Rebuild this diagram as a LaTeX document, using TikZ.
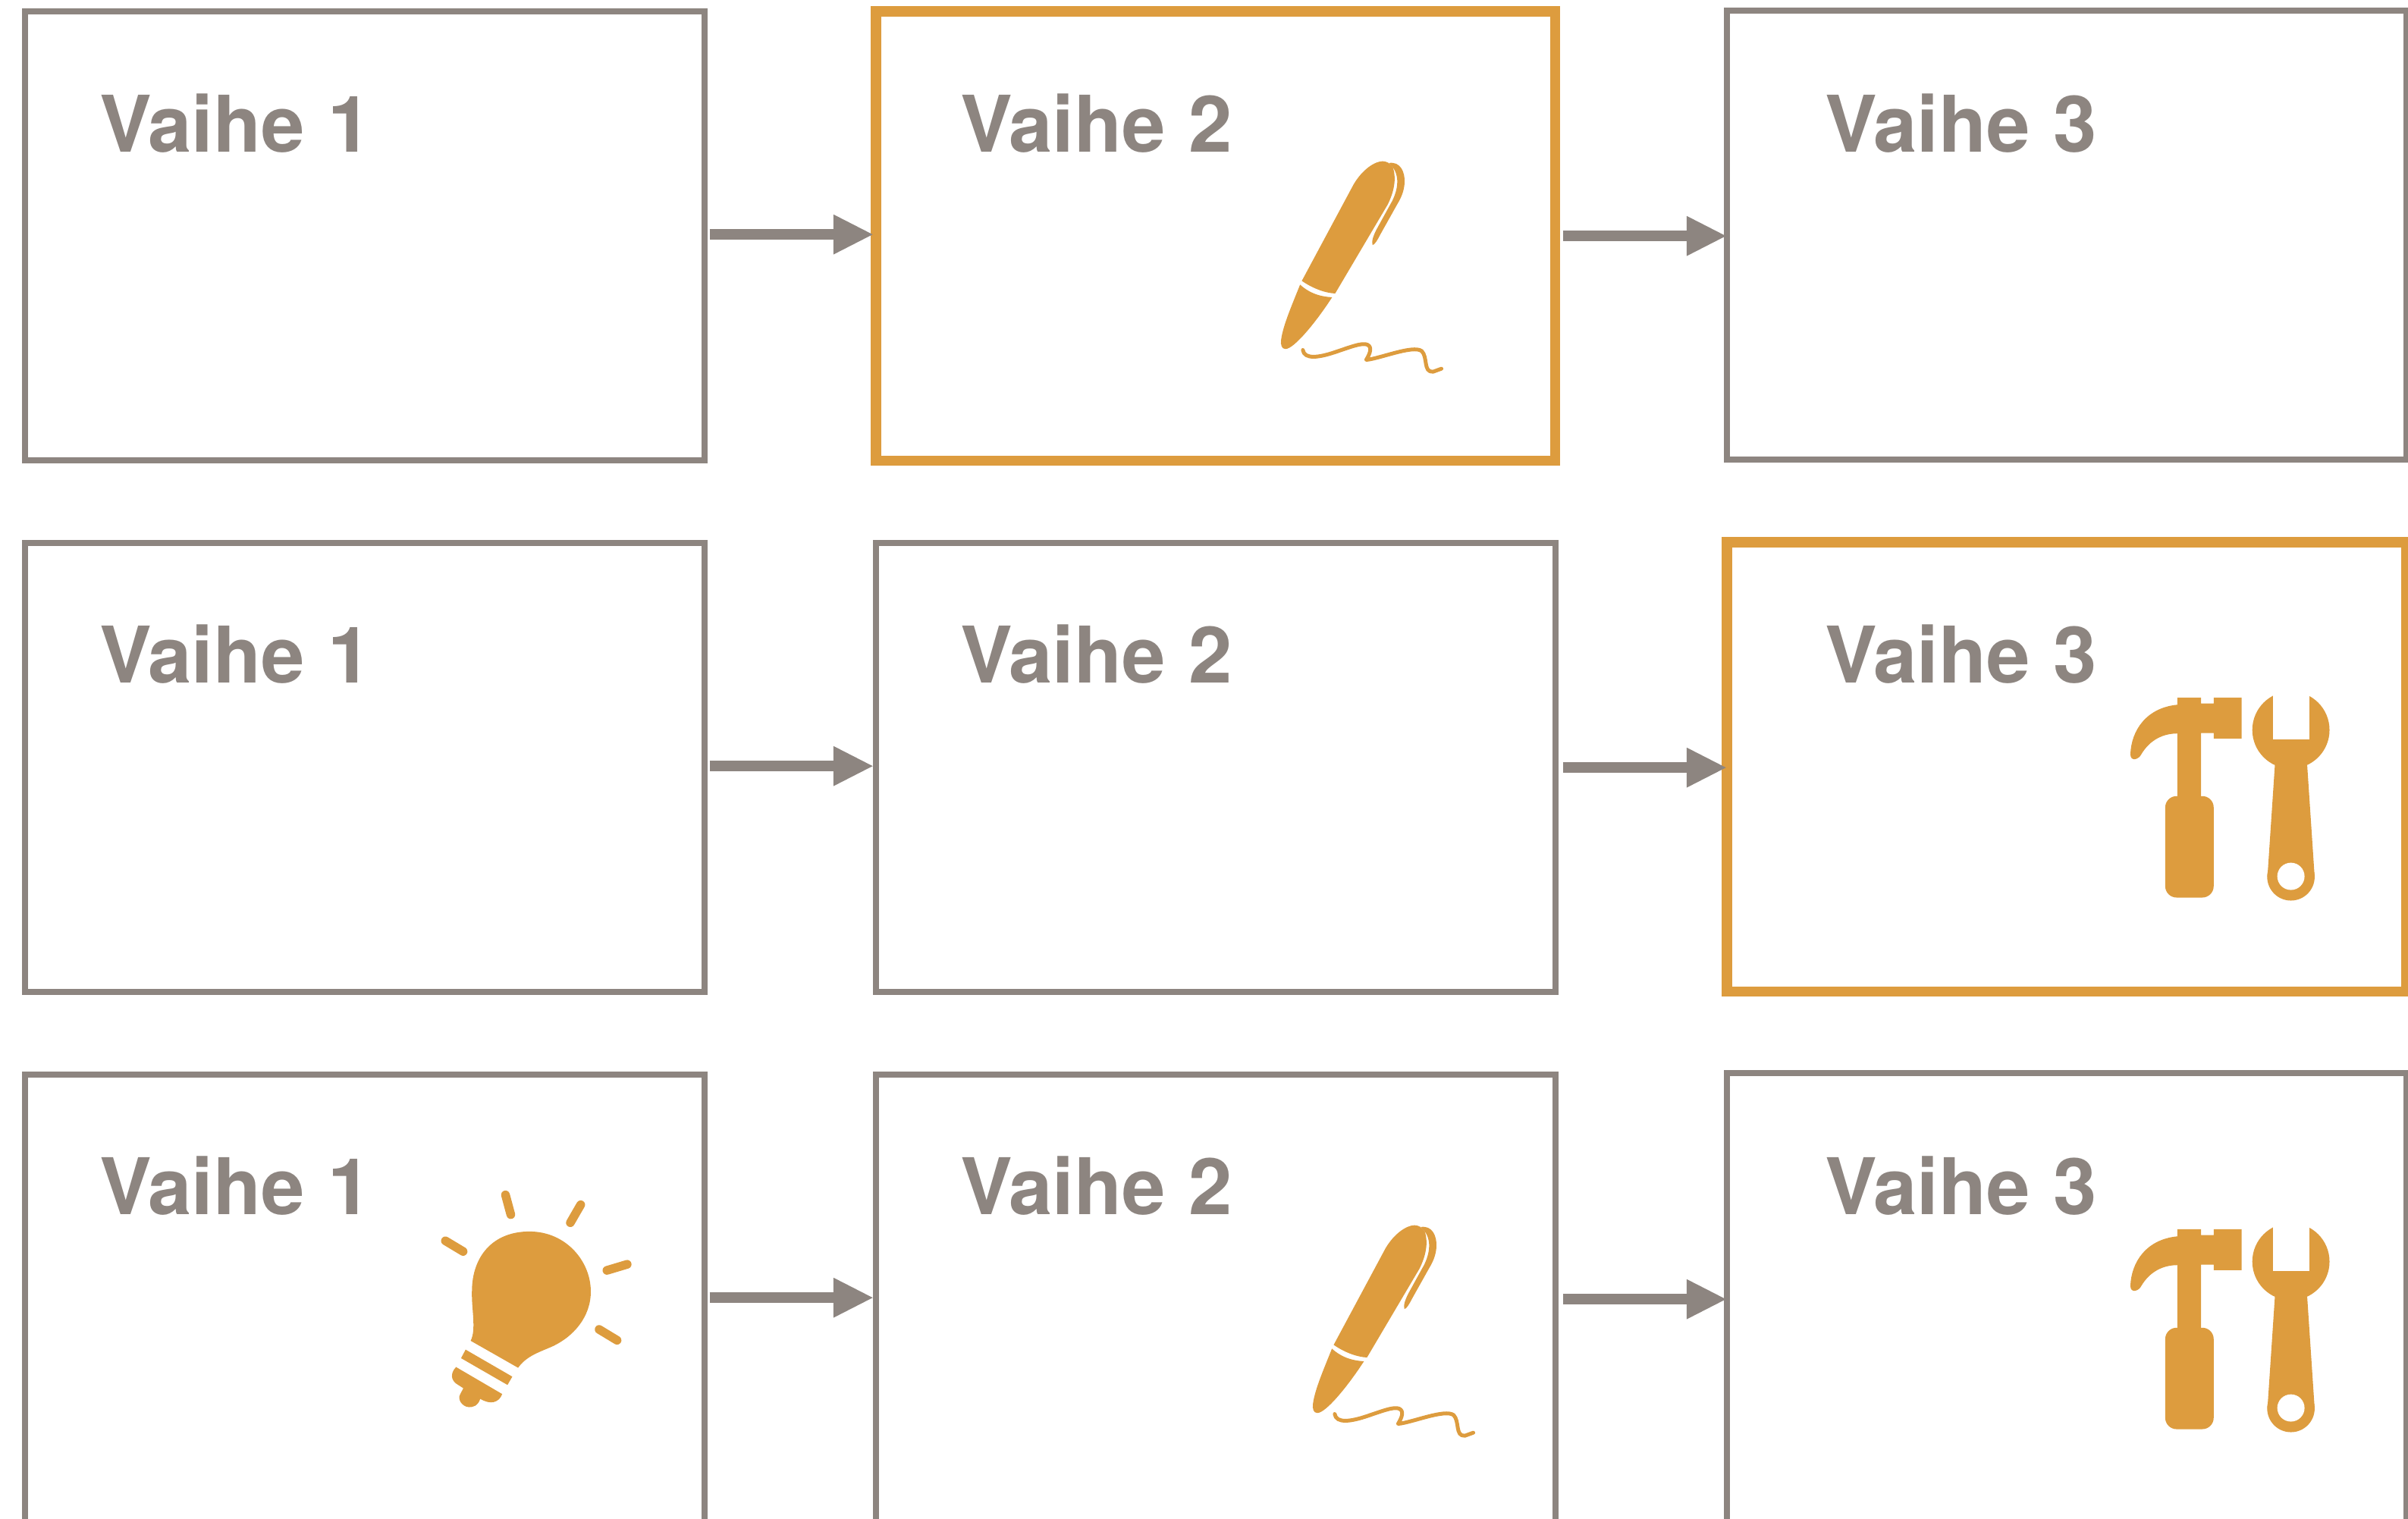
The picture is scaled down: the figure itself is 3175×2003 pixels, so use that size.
\documentclass[tikz,border=0pt]{standalone}
\usepackage{fontspec}
\setmainfont{TeX Gyre Heros}[WordSpace=1.1]
\usetikzlibrary{arrows.meta}
\definecolor{stagegray}{RGB}{141,133,128}
\definecolor{stageorange}{RGB}{221,156,62}
\tikzset{
  stagebox/.style={draw=stagegray,line width=0.08cm,inner sep=0pt,outer sep=0pt,minimum width=8.95cm,minimum height=5.92cm,anchor=north west},
  activebox/.style={stagebox,draw=stageorange,line width=0.135cm},
  stagelabel/.style={text=stagegray,font=\fontsize{29.3}{30}\selectfont\bfseries,inner sep=0pt,outer sep=0pt,anchor=base west},
  flowarrow/.style={draw=stagegray,line width=0.14cm,-{Triangle[length=0.53cm,width=0.485cm]}},
  iconpart/.style={fill=stageorange,draw=none}
}
\newcommand{\penicon}[2]{
\begin{scope}[shift={(#1,#2)},x=0.0033333cm,y=-0.0033333cm]
\fill[iconpart](350,572)--(555,190).. controls (590,130) and (640,98) .. (670,98).. controls (685,98) and (700,105) .. (712,125).. controls (725,170) and (715,220) .. (690,270)--(482,622).. controls (440,620) and (390,600) .. cycle;
\fill[iconpart](343,587).. controls (385,625) and (430,635) .. (470,637).. controls (410,730) and (320,842) .. (285,842).. controls (270,842) and (265,825) .. (268,805).. controls (275,750) and (310,670) .. cycle;
\fill[iconpart](695,105).. controls (740,98) and (760,140) .. (757,185).. controls (755,215) and (745,240) .. (730,265)--(660,390).. controls (650,410) and (638,430) .. (630,430).. controls (625,415) and (635,390) .. (645,370)--(700,270).. controls (730,220) and (740,160) .. (710,122)--cycle;
\draw[stageorange,line width=0.05cm,line cap=round,line join=round](354,846).. controls (360,885) and (420,875) .. (480,855).. controls (540,835) and (590,815) .. (610,825).. controls (630,835) and (620,860) .. (605,885).. controls (660,880) and (790,825) .. (825,850).. controls (850,875) and (830,935) .. (870,932)--(903,920);
\end{scope}
}
\newcommand{\toolsicon}[2]{
\begin{scope}[shift={(#1,#2)},x=0.0033333cm,y=-0.0033333cm]
\fill[iconpart](303,118)--(303,90)--(397,90)--(397,113)--(447,113)--(447,90)--(558,90)--(558,252)--(447,252)--(447,230)--(397,230)--(397,500)--(303,500)--(303,232).. controls (250,232) and (195,255) .. (160,315).. controls (150,335) and (118,345) .. (117,315).. controls (120,220) and (180,130) .. cycle;
\fill[iconpart,rounded corners=0.15cm](255,480) rectangle (447,882);
\fill[iconpart](753,218) circle[radius=153];
\fill[white](681,50) rectangle (825,255);
\fill[iconpart](690,350)--(817,350)--(847,800)--(660,800)--cycle;
\fill[iconpart](753,800) circle[radius=94];
\fill[white](753,798) circle[radius=54];
\end{scope}
}
\newcommand{\bulbicon}[2]{
\begin{scope}[shift={(#1,#2)},x=0.0033333cm,y=-0.0033333cm]
\fill[iconpart](182,655).. controls (205,610) and (185,530) .. (187,460).. controls (187,320) and (270,222) .. (415,222).. controls (560,222) and (658,340) .. (658,460).. controls (658,560) and (590,640) .. (500,680).. controls (440,705) and (400,720) .. (370,762)--cycle;
\fill[iconpart](162,690)--(347,797)--(328,830)--(144,724)--cycle;
\fill[iconpart](124,759)--(307,866).. controls (295,900) and (260,910) .. (220,885).. controls (210,915) and (190,918) .. (175,918).. controls (145,915) and (130,885) .. (140,868)--(153,843)--(125,825).. controls (105,810) and (100,785) .. cycle;
\foreach \xa/\ya/\xb/\yb in {320/77/341/155,618/116/577/187,82/259/152/301,802/352/722/376,691/610/762/653}
  \draw[stageorange,line width=0.115cm,line cap=round](\xa,\ya)--(\xb,\yb);
\end{scope}
}
\begin{document}
\begin{tikzpicture}[x=0.01cm,y=-0.01cm]
\path[use as bounding box,clip](0,0) rectangle (3175,2003);
\node[stagebox](a1) at (33,15){};
\node[activebox](b1) at (1155,15){};
\node[stagebox](c1) at (2277,14){};
\node[stagebox](a2) at (33,716){};
\node[stagebox](b2) at (1155,716){};
\node[activebox](c2) at (2277,715){};
\node[stagebox](a3) at (33,1417){};
\node[stagebox](b3) at (1155,1417){};
\node[stagebox](c3) at (2277,1415){};
\foreach \r/\y in {1/201,2/900,3/1601}{
  \node[stagelabel](a\r t) at (131,\y){Vaihe 1};
  \node[stagelabel](b\r t) at (1266,\y){Vaihe 2};
  \node[stagelabel](c\r t) at (2406,\y){Vaihe 3};
  \draw[flowarrow,shorten <=0.07cm,shorten >=0.03cm]([yshift=0.02cm]a\r.east)--([yshift=0.02cm]b\r.west);
  \draw[flowarrow,shorten <=0.1cm](b\r.east)--(b\r.east-|c\r.west);
}
\penicon{1600}{180}
\penicon{1642}{1583}
\toolsicon{2770}{890}
\toolsicon{2770}{1591}
\bulbicon{560}{1550}
\end{tikzpicture}
\end{document}
